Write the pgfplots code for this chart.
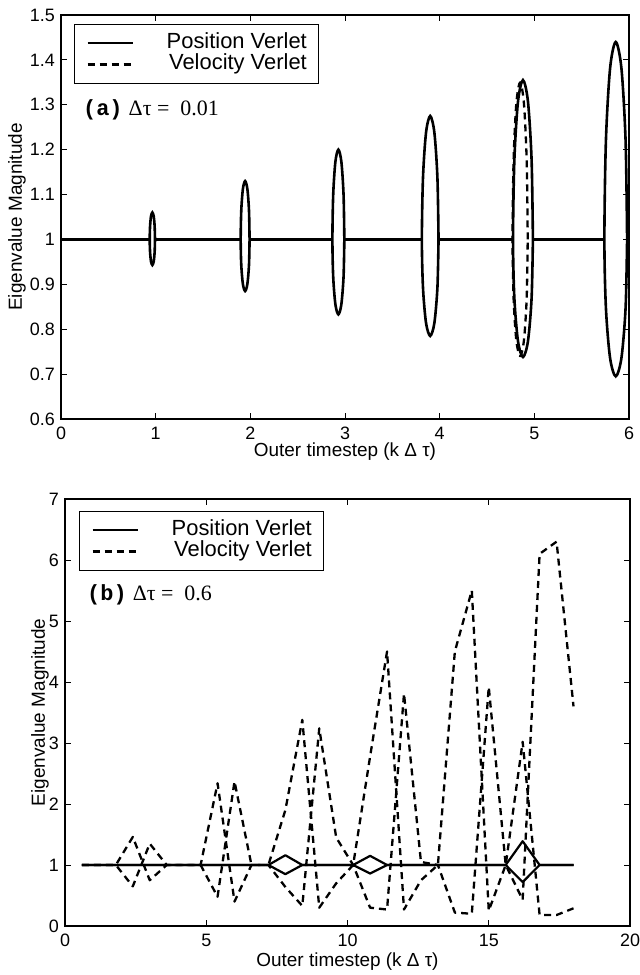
\documentclass[border=0pt]{standalone}
\usepackage{fontspec}
\setmainfont{Liberation Sans}
\newfontfamily\courfont{Liberation Mono}
\newfontfamily\serffont{Liberation Serif}
\usepackage{pgfplots}
\pgfplotsset{compat=1.18}
\pgfplotsset{
  mat/.style={
    scale only axis,
    axis line style={line width=1.1bp},
    every tick/.style={black, line width=0.9bp},
    major tick length=6bp,
    tick align=inside,
    tick pos=both,
    ticklabel style={font=\fontsize{18}{18}\selectfont, inner sep=0pt},
    xticklabel style={yshift=-8bp},
    yticklabel style={xshift=-6bp},
    /pgf/number format/assume math mode=true,
    label style={font=\fontsize{19}{19}\selectfont},
    legend image code/.code={\draw[##1] (0bp,0bp) -- (45bp,0bp);},
    legend style={draw=black, line width=0.8bp, fill=white, anchor=north west,
      font=\fontsize{22}{22}\selectfont, inner xsep=12bp, inner ysep=9bp,
      row sep=2bp, column sep=33bp,
      nodes={inner sep=0pt, text height=15bp, text depth=4.5bp},
      cells={anchor=east}},
  },
  pv/.style={black, line width=2.2bp, line join=round, mark=none},
  vv/.style={black, line width=2.3bp, line join=round, mark=none, dash pattern=on 7bp off 5bp},
  el/.style={black, line width=2.6bp, smooth, mark=none, forget plot},
}
\begin{document}
\begin{tikzpicture}[x=1bp,y=1bp]
\path[use as bounding box] (0,0) rectangle (640,975);
% ---------------- (a)
\begin{axis}[mat, at={(61bp,556bp)}, anchor=south west, width=568bp, height=404bp,
  xmin=0, xmax=6, ymin=0.6, ymax=1.5,
  xtick={0,1,2,3,4,5,6}, ytick={0.6,0.7,0.8,0.9,1,1.1,1.2,1.3,1.4,1.5},
  xlabel={Outer timestep (k Δ τ)},
  ylabel={Eigenvalue Magnitude},
  xlabel style={at={(axis description cs:0.5,0)}, anchor=center, yshift=-33bp},
  ylabel style={at={(axis description cs:-0.0687,0.5)}, anchor=base},
  legend style={at={(axis description cs:0.0229,0.978)}},
  unbounded coords=jump,
]
\addplot[pv] coordinates {(0,1)(0.937,1)(0.95,nan)(0.993,1)(1.898,1)(1.9,nan)(1.992,1)(2.867,1)(2.9,nan)(2.993,1)(3.812,1)(3.85,nan)(3.988,1)(4.775,1)(4.8,nan)(4.985,1)(5.74,1)(5.8,nan)(5.98,1)(6,1)};
\addlegendentry{Position Verlet}
\addplot[vv, smooth] coordinates {(4.93,1)(4.9193,1.175)(4.89,1.3031)(4.85,1.35)(4.81,1.3031)(4.7807,1.175)(4.77,1)(4.7807,0.87)(4.81,0.7748)(4.85,0.74)(4.89,0.7748)(4.9193,0.87)(4.93,1)};
\addlegendentry{Velocity Verlet}
\addplot[el] coordinates {(0.993,1)(0.989,1.03)(0.979,1.052)(0.965,1.06)(0.951,1.052)(0.941,1.03)(0.937,1)(0.941,0.9715)(0.951,0.9506)(0.965,0.943)(0.979,0.9506)(0.989,0.9715)(0.993,1)};
\addplot[el] coordinates {(1.992,1)(1.9857,1.065)(1.9685,1.1126)(1.945,1.13)(1.9215,1.1126)(1.9043,1.065)(1.898,1)(1.9043,0.9425)(1.9215,0.9004)(1.945,0.885)(1.9685,0.9004)(1.9857,0.9425)(1.992,1)};
\addplot[el] coordinates {(2.993,1)(2.9846,1.1)(2.9615,1.1732)(2.93,1.2)(2.8985,1.1732)(2.8754,1.1)(2.867,1)(2.8754,0.9165)(2.8985,0.8554)(2.93,0.833)(2.9615,0.8554)(2.9846,0.9165)(2.993,1)};
\addplot[el] coordinates {(3.988,1)(3.9762,1.1375)(3.944,1.2382)(3.9,1.275)(3.856,1.2382)(3.8238,1.1375)(3.812,1)(3.8238,0.8925)(3.856,0.8138)(3.9,0.785)(3.944,0.8138)(3.9762,0.8925)(3.988,1)};
\addplot[el] coordinates {(4.985,1)(4.9709,1.1775)(4.9325,1.3074)(4.88,1.355)(4.8275,1.3074)(4.7891,1.1775)(4.775,1)(4.7891,0.869)(4.8275,0.7731)(4.88,0.738)(4.9325,0.7731)(4.9709,0.869)(4.985,1)};
\addplot[el] coordinates {(5.98,1)(5.9639,1.22)(5.92,1.381)(5.86,1.44)(5.80,1.381)(5.7561,1.22)(5.74,1)(5.7561,0.8475)(5.80,0.7359)(5.86,0.695)(5.92,0.7359)(5.9639,0.8475)(5.98,1)};
\node[anchor=west, inner sep=0pt] at (rel axis cs:0.0387,0.765)
  {\fontsize{22}{22}\selectfont{\courfont\bfseries (a)}~{\serffont Δτ =\ \ 0.01}};
\end{axis}
% ---------------- (b)
\begin{axis}[mat, at={(65bp,49bp)}, anchor=south west, width=565bp, height=427bp,
  xmin=0, xmax=20, ymin=0, ymax=7,
  xtick={0,5,10,15,20}, ytick={0,1,2,3,4,5,6,7},
  xlabel={Outer timestep (k Δ τ)},
  ylabel={Eigenvalue Magnitude},
  xlabel style={at={(axis description cs:0.5,0)}, anchor=center, yshift=-36bp},
  ylabel style={at={(axis description cs:-0.0354,0.5)}, anchor=base},
  legend style={at={(axis description cs:0.0248,0.972)}},
]
\addplot[pv] coordinates {(0.6,1)(1.2,1)(1.8,1)(2.4,1)(3.0,1)(3.6,1)(4.2,1)(4.8,1)(5.4,1)(6.0,1)(6.6,1)(7.2,1)(7.8,1.16)(8.4,1)(9.0,1)(9.6,1)(10.2,1)(10.8,1.15)(11.4,1)(12.0,1)(12.6,1)(13.2,1)(13.8,1)(14.4,1)(15.0,1)(15.6,1)(16.2,1.39)(16.8,1)(17.4,1)(18.0,1)};
\addlegendentry{Position Verlet}
\addplot[vv] coordinates {(0.6,1)(1.2,1)(1.8,1)(2.4,1.46)(3.0,0.75)(3.6,1)(4.2,1)(4.8,1)(5.4,2.34)(6.0,0.40)(6.6,1)(7.2,1)(7.8,1.9)(8.4,3.38)(9.0,0.30)(9.6,0.7)(10.2,1)(10.8,2.78)(11.4,4.5)(12.0,0.27)(12.6,0.75)(13.2,1)(13.8,4.5)(14.4,5.5)(15.0,0.25)(15.6,1)(16.2,3.02)(16.8,0.18)(17.4,0.18)(18.0,0.29)};
\addlegendentry{Velocity Verlet}
\addplot[pv, forget plot] coordinates {(0.6,1)(1.2,1)(1.8,1)(2.4,1)(3.0,1)(3.6,1)(4.2,1)(4.8,1)(5.4,1)(6.0,1)(6.6,1)(7.2,1)(7.8,0.85)(8.4,1)(9.0,1)(9.6,1)(10.2,1)(10.8,0.86)(11.4,1)(12.0,1)(12.6,1)(13.2,1)(13.8,1)(14.4,1)(15.0,1)(15.6,1)(16.2,0.72)(16.8,1)(17.4,1)(18.0,1)};
\addplot[vv, forget plot] coordinates {(0.6,1)(1.2,1)(1.8,1)(2.4,0.65)(3.0,1.35)(3.6,1)(4.2,1)(4.8,1)(5.4,0.48)(6.0,2.37)(6.6,1)(7.2,1)(7.8,0.64)(8.4,0.33)(9.0,3.24)(9.6,1.45)(10.2,1)(10.8,0.3)(11.4,0.27)(12.0,3.81)(12.6,1.05)(13.2,1)(13.8,0.22)(14.4,0.2)(15.0,3.92)(15.6,1)(16.2,0.43)(16.8,6.1)(17.4,6.3)(18.0,3.6)};
\node[anchor=west, inner sep=0pt] at (rel axis cs:0.039,0.775)
  {\fontsize{22}{22}\selectfont{\courfont\bfseries (b)}~{\serffont Δτ =\ \ 0.6}};
\end{axis}
\end{tikzpicture}
\end{document}
